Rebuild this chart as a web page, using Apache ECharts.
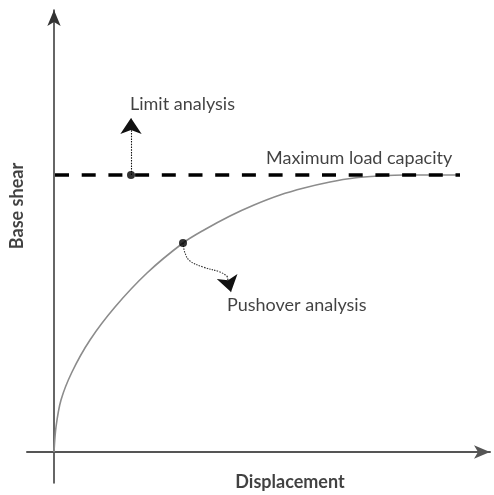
<!DOCTYPE html>
<html>
<head>
<meta charset="utf-8">
<script src="https://cdn.jsdelivr.net/npm/echarts@6/dist/echarts.min.js"></script>
<style>
  html, body { margin: 0; padding: 0; background: #fff; }
  #container { width: 494px; height: 495px; }
</style>
</head>
<body>
<div id="container"></div>
<script>
// pushover curve (displacement, base shear)
var curveX = [0, 2, 7, 18, 36, 61, 93, 129, 150, 176, 200, 226, 250, 276, 300, 326, 350, 406];
var curveY = [0, 25, 52, 80, 112, 145, 179, 209, 222, 236, 247, 257, 264, 270, 274, 276, 277, 277];

// maximum load capacity line
var capX = [1, 406];
var capY = 277;

// the two marked points
var limitPt = [77, 277];
var pushPt = [129, 209];

// annotation arrows
var limitArrow = [[77, 277], [77, 334]];
var pushPath = [[129, 209], [131, 199], [136, 191], [149, 185], [166, 180], [173, 176]];
var pushHead = [[173, 176], [177, 160]];

// annotation texts
var notes = [
    { text: 'Limit analysis', at: [76, 348] },
    { text: 'Maximum load capacity', at: [212, 294] },
    { text: 'Pushover analysis', at: [173, 147] }
];

// axis titles, placed by their centres
var xTitle = { text: 'Displacement', at: [236, -30] };
var yTitle = { text: 'Base shear', at: [-37, 246] };

var font = 'Lato';

var dom = document.getElementById("container");
var myChart = echarts.init(dom);

var option = {
    animation: false,
    backgroundColor: '#ffffff',
    grid: { left: 27, right: 4, top: 10, bottom: 12, outerBoundsMode: 'none' },
    xAxis: {
        type: 'value',
        min: -27,
        max: 436,
        splitLine: { show: false },
        axisTick: { show: false },
        axisLabel: { show: false },
        axisLine: {
            onZero: true,
            symbol: ['none', 'arrow'],
            symbolSize: [10, 16],
            lineStyle: { color: '#555', width: 2 }
        }
    },
    yAxis: {
        type: 'value',
        min: -31,
        max: 442,
        splitLine: { show: false },
        axisTick: { show: false },
        axisLabel: { show: false },
        axisLine: {
            onZero: true,
            symbol: ['none', 'arrow'],
            symbolSize: [10, 16],
            lineStyle: { color: '#333', width: 1.5 }
        }
    },
    series: [
        {
            name: 'curve',
            type: 'line',
            data: curveX.map(function (x, i) { return [x, curveY[i]]; }),
            smooth: 0.3,
            showSymbol: false,
            lineStyle: { color: '#8c8c8c', width: 1.6 },
            z: 2
        },
        {
            name: 'capacity',
            type: 'line',
            data: capX.map(function (x) { return [x, capY]; }),
            showSymbol: false,
            lineStyle: { color: '#000', width: 3.5, type: [14, 12.7], dashOffset: 0 },
            z: 3
        },
        {
            name: 'pushPath',
            type: 'line',
            data: pushPath,
            smooth: 0.4,
            showSymbol: false,
            lineStyle: { color: '#333', width: 1.1, type: [1.5, 1.2] },
            z: 4
        },
        {
            name: 'arrows',
            type: 'lines',
            coordinateSystem: 'cartesian2d',
            symbol: ['none', 'arrow'],
            symbolSize: [8, 16],
            lineStyle: { color: '#111', width: 1.1, type: [1.5, 1.2], opacity: 1, curveness: 0 },
            data: [
                { coords: limitArrow },
                { coords: pushHead }
            ],
            z: 4
        },
        {
            name: 'points',
            type: 'scatter',
            data: [limitPt, pushPt],
            symbolSize: 8,
            itemStyle: { color: '#000' },
            z: 5
        },
        {
            name: 'notes',
            type: 'scatter',
            symbolSize: 0,
            data: notes.map(function (n) { return { value: n.at, name: n.text }; }),
            label: {
                show: true,
                position: 'right',
                distance: 0,
                formatter: '{b}',
                fontFamily: font,
                fontSize: 18,
                color: '#111'
            },
            z: 6
        },
        {
            name: 'titles',
            type: 'scatter',
            symbolSize: 0,
            clip: false,
            data: [
                { value: xTitle.at, name: xTitle.text, label: { rotate: 0 } },
                { value: yTitle.at, name: yTitle.text, label: { rotate: 90 } }
            ],
            label: {
                show: true,
                position: 'inside',
                formatter: '{b}',
                align: 'center',
                verticalAlign: 'middle',
                fontFamily: font,
                fontWeight: 'bold',
                fontSize: 18,
                color: '#111'
            },
            z: 6
        }
    ]
};

myChart.setOption(option);
</script>
</body>
</html>
